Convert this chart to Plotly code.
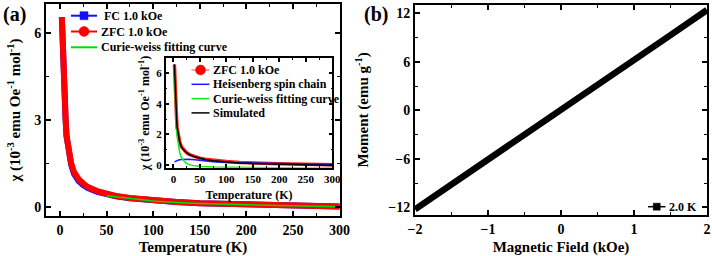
import plotly.graph_objects as go

# ---------------- data ----------------
T_zfc = [2, 3, 4, 5, 6, 7, 8, 10, 12, 15, 20, 25, 30, 40, 50, 60, 75, 100, 125, 150, 175, 200, 250, 300]
chi_zfc = [6.55, 5.3, 4.4, 3.7, 3.05, 2.45, 2.2, 1.8, 1.5, 1.2, 0.95, 0.8, 0.68, 0.54, 0.44, 0.37, 0.3, 0.22, 0.16, 0.12, 0.1, 0.07, 0.04, 0.01]
chi_fc = [6.55, 5.3, 4.4, 3.7, 3.05, 2.45, 2.2, 1.76, 1.45, 1.14, 0.89, 0.75, 0.64, 0.51, 0.42, 0.36, 0.29, 0.21, 0.16, 0.12, 0.1, 0.07, 0.04, 0.01]
chi_sim = [6.6, 5.3, 4.4, 3.7, 3.05, 2.45, 2.2, 1.8, 1.5, 1.2, 0.95, 0.8, 0.68, 0.53, 0.42, 0.35, 0.27, 0.19, 0.13, 0.09, 0.07, 0.05, 0.01, -0.03]

T_cw = [50, 75, 100, 125, 150, 200, 250, 300]
chi_cw = [0.38, 0.28, 0.2, 0.15, 0.11, 0.065, 0.03, 0.0]

T_cw_in = [2, 3, 4, 5, 7, 10, 12, 15, 20, 25, 30, 40, 50, 75, 100, 150, 200, 250, 300]
chi_cw_in = [6.5, 4.9, 3.7, 2.9, 1.85, 1.1, 0.8, 0.5, 0.25, 0.1, 0.02, -0.06, -0.1, -0.14, -0.16, -0.18, -0.19, -0.2, -0.2]

T_hs = [2, 5, 10, 15, 20, 25, 30, 40, 50, 75, 100, 150, 200, 250, 300]
chi_hs = [0.2, 0.26, 0.32, 0.36, 0.38, 0.39, 0.38, 0.34, 0.3, 0.21, 0.16, 0.11, 0.08, 0.06, 0.05]

H_field = [-2, -1.5, -1, -0.5, 0, 0.5, 1, 1.5, 2]
M_moment = [-12.25, -9.2, -6.1, -3.0, 0.05, 3.1, 6.2, 9.3, 12.4]

# legend entries
leg_a_labels = ["\u00a0FC 1.0 kOe", "ZFC 1.0 kOe", "Curie-weiss fitting curve"]
leg_in_labels = ["ZFC 1.0 kOe", "Heisenberg spin chain", "Curie-weiss fitting curve", "Simulated"]
leg_b_labels = ["2.0 K"]

# ---------------- style ----------------
FONT = "Liberation Serif"
W, H = 712, 256
BLUE, RED, GREEN, BLACK = "#1010ff", "#ff0000", "#00dd00", "#000000"


def px(x):
    return x / W


def py(y):
    return 1 - y / H


fig = go.Figure()

# main panel (a)
fig.add_trace(go.Scatter(x=T_zfc, y=chi_fc, mode="lines", line=dict(color=BLUE, width=6),
                         xaxis="x", yaxis="y", name="FC 1.0 kOe", hoverinfo="skip"))
fig.add_trace(go.Scatter(x=T_zfc, y=chi_zfc, mode="lines", line=dict(color=RED, width=6),
                         xaxis="x", yaxis="y", name="ZFC 1.0 kOe", hoverinfo="skip"))
fig.add_trace(go.Scatter(x=T_cw, y=chi_cw, mode="lines", line=dict(color=GREEN, width=1.5),
                         xaxis="x", yaxis="y", name="Curie-weiss fitting curve", hoverinfo="skip"))

# inset
fig.add_trace(go.Scatter(x=T_zfc, y=chi_zfc, mode="lines", line=dict(color="#ff2020", width=3.5),
                         xaxis="x2", yaxis="y2", name="ZFC 1.0 kOe", hoverinfo="skip"))
fig.add_trace(go.Scatter(x=T_hs, y=chi_hs, mode="lines", line=dict(color="#1a1aff", width=1.5),
                         xaxis="x2", yaxis="y2", name="Heisenberg spin chain", hoverinfo="skip"))
fig.add_trace(go.Scatter(x=T_cw_in, y=chi_cw_in, mode="lines", line=dict(color="#11ee11", width=1.5),
                         xaxis="x2", yaxis="y2", name="Curie-weiss fitting curve", hoverinfo="skip"))
fig.add_trace(go.Scatter(x=T_zfc, y=chi_sim, mode="lines", line=dict(color=BLACK, width=1.5),
                         xaxis="x2", yaxis="y2", name="Simulated", hoverinfo="skip"))

# panel (b)
fig.add_trace(go.Scatter(x=H_field, y=M_moment, mode="lines", line=dict(color=BLACK, width=6.5),
                         xaxis="x3", yaxis="y3", name="2.0 K", hoverinfo="skip"))

tickfont = dict(family=FONT, size=14, color="black", weight="bold")
tickfont_in = dict(family=FONT, size=11, color="black", weight="bold")
titlefont = dict(family=FONT, size=15, color="black", weight="bold")
titlefont_in = dict(family=FONT, size=12, color="black", weight="bold")


def ax(domain, rng, tickvals, minor_dtick, tfont, ttext, tfnt, standoff, lw=2, tlen=5, mlen=3):
    return dict(domain=domain, range=rng, tickvals=tickvals, ticks="inside", ticklen=tlen, tickwidth=1.5,
                tickcolor="black", showline=True, linecolor="black", linewidth=lw, mirror="allticks",
                showgrid=False, zeroline=False, tickfont=tfont, automargin=False,
                minor=dict(ticks="inside", ticklen=mlen, tickwidth=1.2, tickcolor="black", dtick=minor_dtick,
                           tick0=0, showgrid=False),
                title=dict(text=ttext, font=tfnt, standoff=standoff))


xa = ax([px(46), px(340)], [-15, 300.5], [0, 50, 100, 150, 200, 250, 300], 25, tickfont,
        "<b>Temperature (K)</b>", titlefont, 8)
ya = ax([py(216), py(4)], [-0.32, 7.0], [0, 3, 6], 1.5, tickfont,
        "<b>χ (10<sup>-3</sup> emu Oe<sup>-1</sup> mol<sup>-1</sup>)</b>", titlefont, 10)
xi = ax([px(165.7), px(332.3)], [-14.5, 300], [0, 50, 100, 150, 200, 250, 300], 25, tickfont_in,
        "<b>Temperature (K)</b>", titlefont_in, 7, lw=1.5, tlen=4, mlen=2)
yi = ax([py(167.7), py(58.3)], [-0.18, 6.97], [0, 2, 4, 6], 1, tickfont_in,
        "<b>χ (10<sup>-3</sup> emu Oe<sup>-1</sup> mol<sup>-1</sup>)</b>", titlefont_in, 4, lw=1.5, tlen=4, mlen=2)
xb = ax([px(415), px(707)], [-2, 2], [-2, -1, 0, 1, 2], 0.5, tickfont,
        "<b>Magnetic Field (kOe)</b>", titlefont, 8)
yb = ax([py(215), py(4.7)], [-12.95, 13.06], [-12, -6, 0, 6, 12], 3, tickfont,
        "<b>Moment (emu g<sup>-1</sup>)</b>", titlefont, 16)

xa["anchor"], ya["anchor"] = "y", "x"
xi["anchor"], yi["anchor"] = "y2", "x2"
xb["anchor"], yb["anchor"] = "y3", "x3"

# ---------- hand-made legends (layout decorations) ----------
shapes = []
annotations = []


def legend_row(label, y, x_line0, x_line1, x_text, color, width, marker, msize, fsize):
    shapes.append(dict(type="line", xref="paper", yref="paper", x0=px(x_line0), x1=px(x_line1),
                       y0=py(y), y1=py(y), line=dict(color=color, width=width)))
    if marker:
        cx = (x_line0 + x_line1) / 2
        r = msize / 2
        shapes.append(dict(type="circle" if marker == "circle" else "rect", xref="paper", yref="paper",
                           x0=px(cx - r), x1=px(cx + r), y0=py(y + r), y1=py(y - r),
                           fillcolor=color, line=dict(color=color, width=0.5)))
    annotations.append(dict(text="<b>" + label + "</b>", x=px(x_text), y=py(y), xref="paper", yref="paper",
                            xanchor="left", yanchor="middle", showarrow=False,
                            font=dict(family=FONT, size=fsize, color="black")))


leg_a_colors = [BLUE, RED, GREEN]
leg_a_markers = [("square", 8), ("circle", 10), (None, 0)]
for i, lab in enumerate(leg_a_labels):
    legend_row(lab, 15.7 + 15.8 * i, 71, 97, 99, leg_a_colors[i], 2, leg_a_markers[i][0], leg_a_markers[i][1], 12)

leg_in_colors = ["rgba(255,110,110,0.85)", "#1a1aff", "#11ee11", BLACK]
for i, lab in enumerate(leg_in_labels):
    legend_row(lab, 70 + 14.3 * i, 191.5, 209.5, 211, leg_in_colors[i], 1.5, None, 0, 12)
# red circle of the inset ZFC entry
shapes.append(dict(type="circle", xref="paper", yref="paper", x0=px(195.5), x1=px(205.5), y0=py(75), y1=py(65),
                   fillcolor=RED, line=dict(color=RED, width=0.5)))

legend_row(leg_b_labels[0], 206.7, 648, 665.5, 667, BLACK, 1.5, "square", 7, 12)

annotations += [
    dict(text="<b>(a)</b>", x=px(1), y=py(14), xref="paper", yref="paper", xanchor="left", yanchor="middle",
         showarrow=False, font=dict(family=FONT, size=20, color="black")),
    dict(text="<b>(b)</b>", x=px(362), y=py(14), xref="paper", yref="paper", xanchor="left", yanchor="middle",
         showarrow=False, font=dict(family=FONT, size=20, color="black")),
]

fig.update_layout(
    width=W, height=H, margin=dict(l=0, r=0, t=0, b=0),
    paper_bgcolor="white", plot_bgcolor="white",
    font=dict(family=FONT, color="black"),
    xaxis=xa, yaxis=ya, xaxis2=xi, yaxis2=yi, xaxis3=xb, yaxis3=yb,
    showlegend=False,
    shapes=shapes,
    annotations=annotations,
)

fig.write_html("out.html", config={"displayModeBar": False},
               post_script="document.body.style.margin='0px';document.body.style.padding='0px';")
